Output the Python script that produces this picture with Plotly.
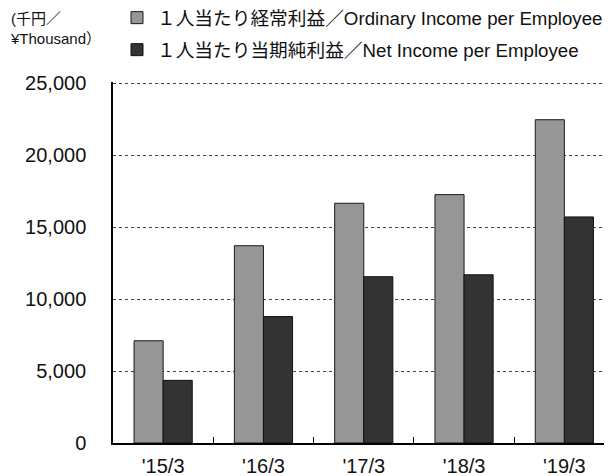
import plotly.graph_objects as go

categories = ["'15/3", "'16/3", "'17/3", "'18/3", "'19/3"]
ordinary_income = [7100, 13700, 16650, 17250, 22450]
net_income = [4350, 8780, 11550, 11680, 15700]
name_ordinary = "１人当たり経常利益／Ordinary Income per Employee"
name_net = "１人当たり当期純利益／Net Income per Employee"
unit_label = "(千円／<br>¥Thousand）"

FONT = "Liberation Sans, Arial, Noto Sans CJK JP, sans-serif"

fig = go.Figure()
fig.add_trace(go.Bar(
    x=categories, y=ordinary_income, name=name_ordinary,
    marker=dict(color="#969696", line=dict(color="#1a1a1a", width=1)),
    legend="legend",
))
fig.add_trace(go.Bar(
    x=categories, y=net_income, name=name_net,
    marker=dict(color="#333333", line=dict(color="#111111", width=1)),
    legend="legend2",
))

# page body has an 8px margin: figure coords = screen coords - 8
OFF = 8
W, H = 612 - OFF, 476 - OFF
L, R, T, B = 105, 0, 74, 33
pw = W - L - R
ph = H - T - B

def px2x(s):
    return ((s - OFF) - L) / pw

def py2y(s):
    return (H - B - (s - OFF)) / ph

fig.update_layout(
    width=W, height=H,
    margin=dict(l=L, r=R, t=T, b=B, pad=0, autoexpand=False),
    paper_bgcolor="white", plot_bgcolor="white",
    font=dict(family=FONT, size=18, color="#111111"),
    barmode="group", bargap=0.42, bargroupgap=0,
    showlegend=True,
    legend=dict(x=px2x(117), y=py2y(18), xanchor="left", yanchor="middle",
                font=dict(size=18.7), bgcolor="rgba(0,0,0,0)", itemclick=False),
    legend2=dict(x=px2x(117), y=py2y(50), xanchor="left", yanchor="middle",
                 font=dict(size=18.7), bgcolor="rgba(0,0,0,0)", itemclick=False),
    xaxis=dict(
        type="category", range=[-0.5, 4.475],
        showline=True, linecolor="black", linewidth=2,
        ticks="inside", tickson="boundaries", ticklen=6, tickcolor="black", tickwidth=1,
        showgrid=False, tickfont=dict(size=20), ticklabelstandoff=4,
    ),
    yaxis=dict(
        range=[0, 25070], tickvals=[0, 5000, 10000, 15000, 20000, 25000], tickformat=",",
        showline=True, linecolor="black", linewidth=1.5,
        showgrid=True, gridcolor="#444444", griddash="dot", gridwidth=1,
        zeroline=False, ticks="", tickfont=dict(size=20), ticklabelstandoff=21,
    ),
    annotations=[dict(
        text=unit_label, xref="paper", yref="paper",
        x=px2x(8), y=py2y(8), xanchor="left", yanchor="top",
        showarrow=False, align="left", font=dict(size=15),
    )],
)

fig.write_html("out.html")
